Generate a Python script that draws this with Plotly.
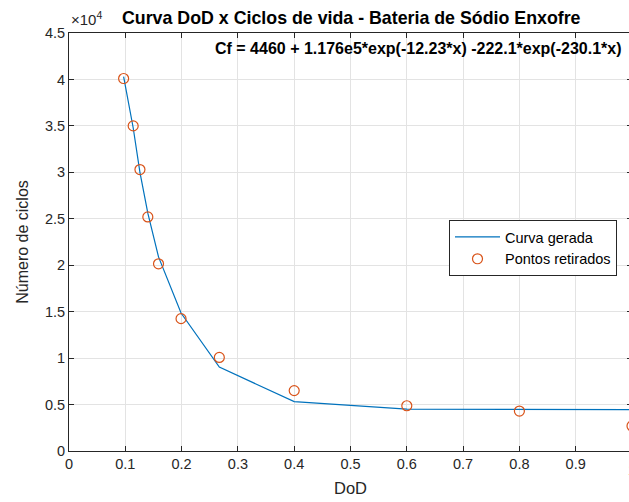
import plotly.graph_objects as go

# Data
dod_points = [0.097, 0.114, 0.126, 0.140, 0.159, 0.199, 0.267, 0.4, 0.6, 0.8, 1.0]
cycles_points = [40100, 35000, 30300, 25200, 20150, 14250, 10070, 6500, 4870, 4300, 2700]
curve_values = [40300, 34800, 30000, 25600, 20900, 14850, 9030, 5320, 4500, 4440, 4460]

y_tickvals = [0, 5000, 10000, 15000, 20000, 25000, 30000, 35000, 40000, 45000]
y_ticktext = ["0", "0.5", "1", "1.5", "2", "2.5", "3", "3.5", "4", "4.5"]
x_tickvals = [0, 0.1, 0.2, 0.3, 0.4, 0.5, 0.6, 0.7, 0.8, 0.9, 1.0]
x_ticktext = ["0", "0.1", "0.2", "0.3", "0.4", "0.5", "0.6", "0.7", "0.8", "0.9", "1"]

title_text = "Curva DoD x Ciclos de vida - Bateria de Sódio Enxofre"
formula_text = "Cf = 4460 + 1.176e5*exp(-12.23*x) -222.1*exp(-230.1*x)"

FONT = "Liberation Sans, Arial, Helvetica, sans-serif"
AXC = "#262626"

fig = go.Figure()
fig.add_trace(go.Scatter(
    x=dod_points, y=curve_values, mode="lines", name="Curva gerada",
    line=dict(color="#0072BD", width=1.2), cliponaxis=True,
))
fig.add_trace(go.Scatter(
    x=dod_points, y=cycles_points, mode="markers", name="Pontos retirados",
    marker=dict(symbol="circle-open", size=10, color="#D95319", line=dict(width=1.2, color="#D95319")),
    cliponaxis=False,
))

W, H = 632, 502
ml, mt, mb = 69, 33, 51
plot_w = W - ml
plot_h = H - mt - mb

def px(x):
    return (x - ml) / plot_w

fig.update_layout(
    width=W, height=H,
    margin=dict(l=ml, r=0, t=mt, b=mb, autoexpand=False),
    paper_bgcolor="white", plot_bgcolor="white",
    font=dict(family=FONT, color=AXC, size=14),
    showlegend=True,
    legend=dict(
        x=px(617), xanchor="right",
        y=(H - mb - 220) / plot_h, yanchor="top",
        bgcolor="white", bordercolor="#262626", borderwidth=1,
        font=dict(size=14.5, color="#000000", family=FONT),
        tracegroupgap=0, itemwidth=45,
    ),
    annotations=[
        dict(text="<b>" + title_text + "</b>", xref="paper", yref="paper",
             x=px(351), y=1, yshift=15, xanchor="center", yanchor="middle",
             showarrow=False, font=dict(size=17.8, color="#000000", family=FONT)),
        dict(text="<b>" + formula_text + "</b>", xref="paper", yref="paper",
             x=px(623), y=1, yshift=-15, xanchor="right", yanchor="middle",
             showarrow=False, font=dict(size=16, color="#000000", family=FONT)),
        dict(text="×10<sup>4</sup>", xref="paper", yref="paper",
             x=0, y=1, xshift=0, yshift=15, xanchor="left", yanchor="middle",
             showarrow=False, font=dict(size=15, color=AXC, family=FONT)),
        dict(text="1", xref="paper", yref="paper",
             x=1.0, y=0, yshift=-19, xanchor="center", yanchor="middle",
             showarrow=False, font=dict(size=14.5, color=AXC, family=FONT)),
    ],
)

fig.update_xaxes(
    range=[0, 1.0], tickvals=x_tickvals, ticktext=x_ticktext, automargin=False,
    showgrid=True, gridcolor="#e3e3e3", gridwidth=1,
    showline=True, linecolor=AXC, linewidth=1, mirror="ticks",
    ticks="inside", ticklen=5, tickcolor=AXC, zeroline=False,
    tickfont=dict(size=14.5, color=AXC, family=FONT),
    title=dict(text="DoD", font=dict(size=16.5, color=AXC, family=FONT), standoff=11),
)
fig.update_yaxes(
    range=[0, 45000], tickvals=y_tickvals, ticktext=y_ticktext, automargin=False,
    showgrid=True, gridcolor="#e3e3e3", gridwidth=1,
    showline=True, linecolor=AXC, linewidth=1, mirror="ticks",
    ticks="inside", ticklen=5, tickcolor=AXC, zeroline=False,
    tickfont=dict(size=14.5, color=AXC, family=FONT),
    title=dict(text="Número de ciclos", font=dict(size=16, color=AXC, family=FONT), standoff=12),
)

fig.write_html(
    "out.html",
    config={"displayModeBar": False},
    post_script="document.body.style.margin='0';document.body.style.overflow='hidden';",
)
